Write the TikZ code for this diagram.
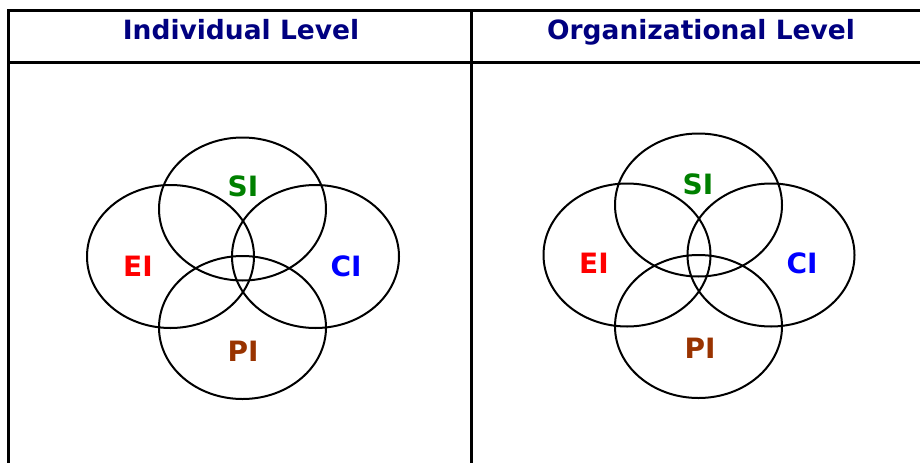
\documentclass[tikz,border=0pt]{standalone}
\usepackage{fontspec}
\setmainfont{DejaVu Sans}
\usetikzlibrary{shapes.geometric}
\definecolor{navy}{RGB}{0,0,128}
\definecolor{sigreen}{RGB}{0,128,0}
\definecolor{eired}{RGB}{255,0,0}
\definecolor{ciblue}{RGB}{0,0,255}
\definecolor{pibrown}{RGB}{153,51,0}
\tikzset{
  ring/.style={draw=black, line width=2pt, ellipse, minimum width=167pt, minimum height=143pt, inner sep=0pt},
  lbl/.style={font=\fontsize{28}{28}\selectfont\bfseries, inner sep=0pt, anchor=base},
  hdr/.style={font=\fontsize{26.5}{26.5}\selectfont\bfseries, text=navy, inner sep=0pt, anchor=base},
  rule/.style={draw=black, line width=3pt}
}
\begin{document}
\begin{tikzpicture}[x=1pt,y=-1pt]
\useasboundingbox (0,0) rectangle (920,463);
% table
\coordinate (tl) at (8.5,10);
\coordinate (tr) at (920,10);
\coordinate (ml) at (8.5,62);
\coordinate (mr) at (920,62);
\coordinate (bl) at (8.5,463);
\coordinate (ct) at (471,10);
\coordinate (cb) at (471,463);
\draw[rule] (tr) -- (tl) -- (bl);
\draw[rule] (ml) -- (mr);
\draw[rule] (ct) -- (cb);
% headers
\node[hdr] (h1) at (241,39) {Individual Level};
\node[hdr] (h2) at (701,39) {Organizational Level};
% left panel
\node[ring] (lsi) at (242.5,209) {};
\node[ring] (lei) at (170.5,256.5) {};
\node[ring] (lci) at (315.5,256.5) {};
\node[ring] (lpi) at (242.5,327.5) {};
\node[lbl,text=sigreen] (lsit) at (243,196) {SI};
\node[lbl,text=eired] (leit) at (138,276) {EI};
\node[lbl,text=ciblue] (lcit) at (346,276) {CI};
\node[lbl,text=pibrown] (lpit) at (243,361) {PI};
% right panel
\node[ring] (rsi) at (698.5,205) {};
\node[ring] (rei) at (627,255) {};
\node[ring] (rci) at (771,255) {};
\node[ring] (rpi) at (698.5,326.5) {};
\node[lbl,text=sigreen] (rsit) at (698,194) {SI};
\node[lbl,text=eired] (reit) at (594,273) {EI};
\node[lbl,text=ciblue] (rcit) at (802,273) {CI};
\node[lbl,text=pibrown] (rpit) at (700,358) {PI};
\end{tikzpicture}
\end{document}
